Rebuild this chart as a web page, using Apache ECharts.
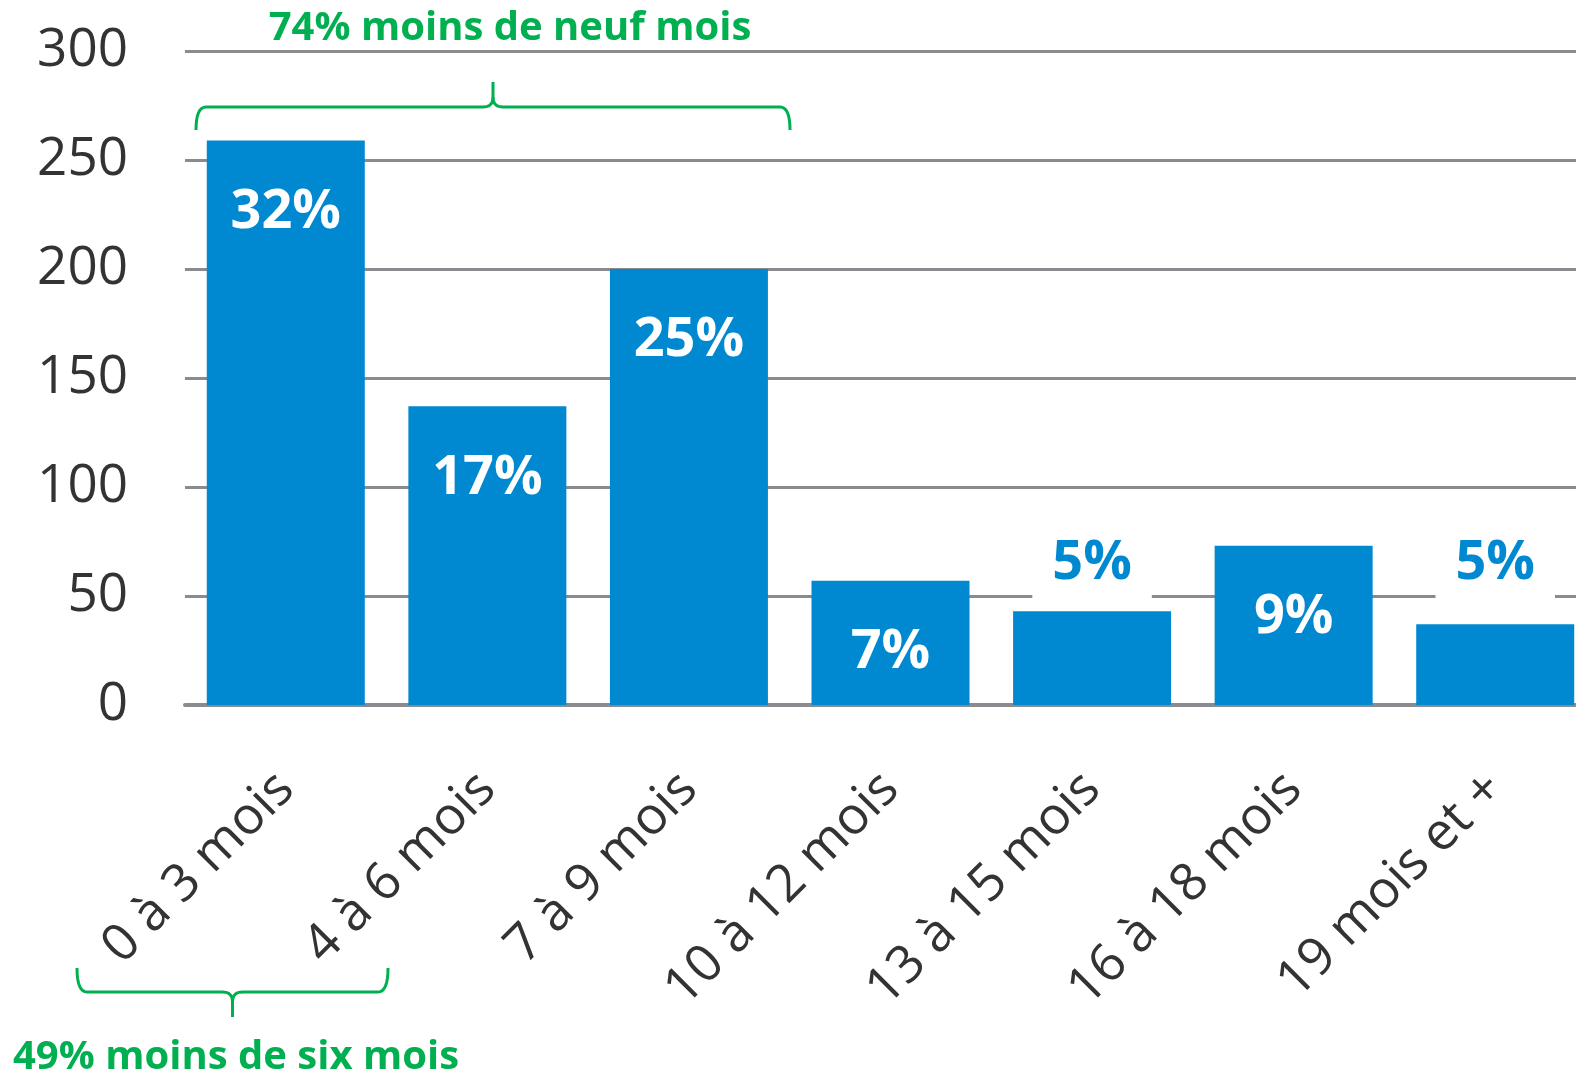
<!DOCTYPE html>
<html>
<head>
<meta charset="utf-8">
<script src="https://cdn.jsdelivr.net/npm/echarts@6/dist/echarts.min.js"></script>
<style>
  html, body { margin: 0; padding: 0; background: #fff; overflow: hidden; }
  /* chart is a bit wider than the window: the last bar runs off the right edge */
  #chart { width: 1596px; height: 1076px; }
</style>
</head>
<body>
<div id="chart"></div>
<script>
const categories = ['0 à 3 mois', '4 à 6 mois', '7 à 9 mois', '10 à 12 mois', '13 à 15 mois', '16 à 18 mois', '19 mois et +']
const values = [259, 137, 200, 57, 43, 73, 37]
const pctLabels = ['32%', '17%', '25%', '7%', '5%', '9%', '5%']
const yTicks = [0, 50, 100, 150, 200, 250, 300]

const BLUE = '#0089D1'
const GREEN = '#00B050'
const GRID_GREY = '#8a8b8e'

const PX_PER_UNIT = 654 / 300 // plot height / y range

const chart = echarts.init(document.getElementById('chart'))

// bracket drawn as two polylines: x1..x2 span, ends at yEnd, bar at yBar, tip at yTip
function bracket(x1, x2, yEnd, yBar, yTip) {
  const r = 10
  const dir = yTip < yBar ? -1 : 1
  const mid = (x1 + x2) / 2
  const quad = (pts, p0, c, p1) => {
    for (let t = 0; t <= 1.0001; t += 0.125) {
      const a = (1 - t) * (1 - t), b = 2 * (1 - t) * t, d = t * t
      pts.push([a * p0[0] + b * c[0] + d * p1[0], a * p0[1] + b * c[1] + d * p1[1]])
    }
  }
  const left = []
  quad(left, [x1, yEnd], [x1, yBar], [x1 + r, yBar])
  quad(left, [mid - r, yBar], [mid, yBar], [mid, yBar + dir * r])
  left.push([mid, yTip])
  const right = []
  quad(right, [mid, yBar + dir * r], [mid, yBar], [mid + r, yBar])
  quad(right, [x2 - r, yBar], [x2, yBar], [x2, yEnd])
  return [left, right]
}

const topBr = bracket(196, 790, 130, 107, 82)
const botBr = bracket(77, 388, 968, 992, 1017)
const brStyle = { stroke: GREEN, lineWidth: 3, fill: null }

const barData = values.map(v => {
  // small bars get their label above, on a white box that cuts the gridline
  const outside = v < 50
  return {
    value: v,
    label: outside
      ? {
          position: 'top',
          distance: 9 + (43 - v) * PX_PER_UNIT,
          color: BLUE,
          backgroundColor: '#fff',
          padding: [4, 20, 12, 20],
        }
      : {
          position: 'insideTop',
          distance: 45,
          color: '#fff',
        },
  }
})

const option = {
  animation: false,
  grid: { left: 185, right: 0, top: 51, bottom: 371 },
  xAxis: {
    type: 'category',
    data: categories,
    axisTick: { show: false },
    axisLine: { lineStyle: { color: GRID_GREY, width: 4 } },
    axisLabel: {
      interval: 0,
      rotate: 45,
      margin: 76,
      fontSize: 52,
      fontFamily: 'Open Sans',
      color: '#333',
    },
  },
  yAxis: {
    type: 'value',
    min: yTicks[0],
    max: yTicks[yTicks.length - 1],
    interval: 50,
    axisLine: { show: false },
    axisTick: { show: false },
    axisLabel: {
      margin: 57,
      fontSize: 53,
      fontFamily: 'Open Sans',
      color: '#333',
    },
    splitLine: { lineStyle: { color: GRID_GREY, width: 3 } },
  },
  series: [
    {
      type: 'bar',
      barWidth: 158,
      itemStyle: { color: BLUE },
      label: {
        show: true,
        fontSize: 54,
        fontWeight: 'bold',
        fontFamily: 'Open Sans',
        formatter: p => pctLabels[p.dataIndex],
      },
      data: barData,
    },
  ],
  graphic: [
    {
      type: 'text',
      style: {
        text: '74% moins de neuf mois',
        x: 510,
        y: 29,
        fill: GREEN,
        font: 'bold 40px "Open Sans"',
        align: 'center',
        verticalAlign: 'middle',
      },
    },
    { type: 'polyline', shape: { points: topBr[0] }, style: brStyle },
    { type: 'polyline', shape: { points: topBr[1] }, style: brStyle },
    { type: 'polyline', shape: { points: botBr[0] }, style: brStyle },
    { type: 'polyline', shape: { points: botBr[1] }, style: brStyle },
    {
      type: 'text',
      style: {
        text: '49% moins de six mois',
        x: 236,
        y: 1058,
        fill: GREEN,
        font: 'bold 40px "Open Sans"',
        align: 'center',
        verticalAlign: 'middle',
      },
    },
  ],
}

chart.setOption(option)
</script>
</body>
</html>
